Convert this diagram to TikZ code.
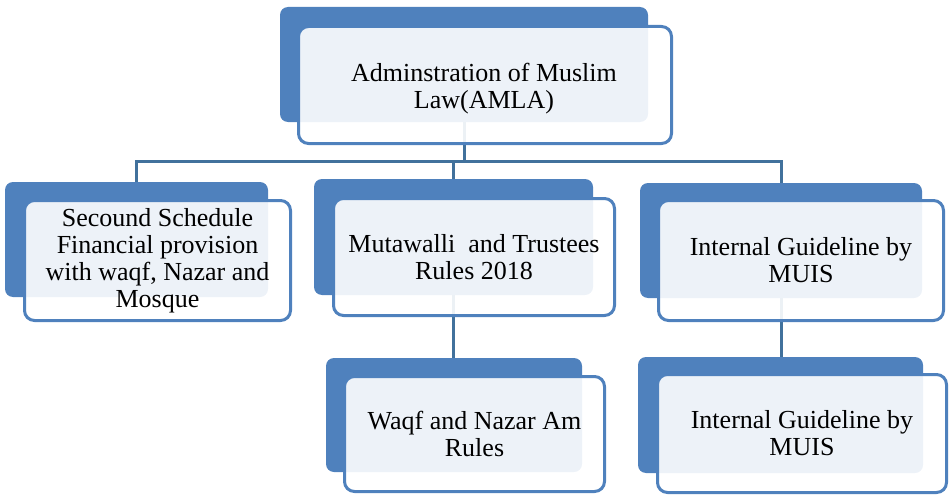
\documentclass[tikz,border=0pt]{standalone}
\usepackage{fontspec}
\setmainfont{Liberation Serif}
\definecolor{boxblue}{HTML}{4F81BD}
\definecolor{lineblue}{HTML}{41719C}
\tikzstyle{boxback}=[rectangle,rounded corners=8pt,fill=boxblue,inner sep=0pt]
\tikzstyle{boxfront}=[rectangle,rounded corners=10pt,draw=boxblue,line width=3pt,fill=white,fill opacity=0.9,text opacity=1,align=center,inner sep=0pt,font=\fontsize{26}{27}\selectfont]
\tikzstyle{edgeline}=[draw=lineblue,line width=3pt]

\begin{document}
\begin{tikzpicture}[x=1pt,y=-1pt]
    \useasboundingbox (0,0) rectangle (951,495);
    \node[boxback,minimum width=368pt,minimum height=115pt] (b0) at (464,64.5) {};
    \node[boxback,minimum width=263pt,minimum height=115pt] (b1) at (136.5,239.5) {};
    \node[boxback,minimum width=279pt,minimum height=116pt] (b2) at (453.5,237) {};
    \node[boxback,minimum width=282pt,minimum height=115pt] (b3) at (781,240.5) {};
    \node[boxback,minimum width=256pt,minimum height=114pt] (b4) at (454,415) {};
    \node[boxback,minimum width=285pt,minimum height=116pt] (b5) at (780.5,415) {};

    \foreach \from/\to in {b0/b1,b0/b2,b0/b3}
    \draw[edgeline] (\from.south) -- ++(0,39) -| (\to.north);
    \foreach \from/\to in {b2/b4,b3/b5}
    \draw[edgeline] (\from.south) -- (\from.south |- \to.north);

    \node[boxfront,minimum width=373pt,minimum height=117pt] (f0) at (485,85) {};
    \node (t0) at (484,89) [font=\fontsize{26}{27}\selectfont,align=center,inner sep=0pt] {Adminstration of Muslim\\Law(AMLA)};
    \node[boxfront,minimum width=266pt,minimum height=120pt] (f1) at (157.5,260.5) {Secound Schedule\\Financial provision\\with waqf, Nazar and\\Mosque};
    \node[boxfront,minimum width=281pt,minimum height=117pt] (f2) at (474,257) {Mutawalli\ \ and Trustees\\Rules 2018};
    \node[boxfront,minimum width=285pt,minimum height=120pt] (f3) at (801,260.5) {Internal Guideline by\\MUIS};
    \node[boxfront,minimum width=260pt,minimum height=115pt] (f4) at (474.5,434) {Waqf and Nazar Am\\Rules};
    \node[boxfront,minimum width=289pt,minimum height=118pt] (f5) at (802,433.5) {Internal Guideline by\\MUIS};
\end{tikzpicture}
\end{document}
